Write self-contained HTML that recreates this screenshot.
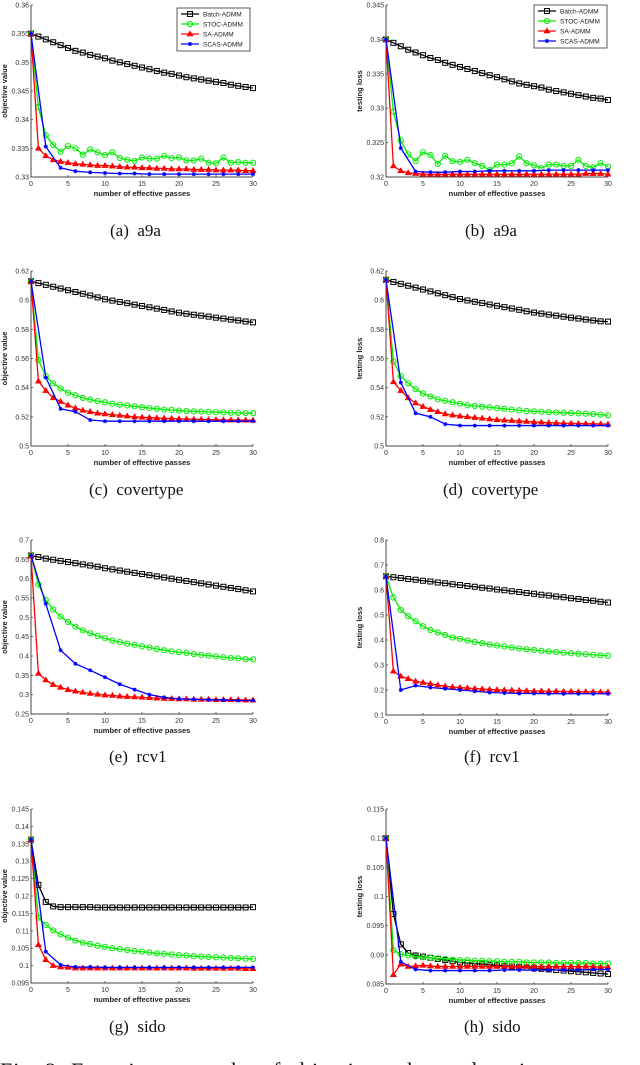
<!DOCTYPE html>
<html><head><meta charset="utf-8">
<style>
html,body{margin:0;padding:0;background:#fff;width:640px;height:1065px;overflow:hidden;position:relative}
svg{position:absolute;left:0;top:0}
.cap{position:absolute;font-family:"Liberation Serif",serif;font-size:17px;color:#111;white-space:pre}
</style></head>
<body>
<svg id="fig" width="640" height="1065" viewBox="0 0 640 1065"></svg>
<div class="cap" style="left:110px;top:221px">(a)  a9a</div>
<div class="cap" style="left:465px;top:221px">(b)  a9a</div>
<div class="cap" style="left:89px;top:480px">(c)  covertype</div>
<div class="cap" style="left:443px;top:480px">(d)  covertype</div>
<div class="cap" style="left:109px;top:747px">(e)  rcv1</div>
<div class="cap" style="left:464px;top:747px">(f)  rcv1</div>
<div class="cap" style="left:109px;top:1017px">(g)  sido</div>
<div class="cap" style="left:464px;top:1017px">(h)  sido</div>
<div class="cap" style="left:0;top:1058px;width:640px;overflow:hidden;font-size:22px;letter-spacing:1px">Fig. 2: Experiment results of objective value and testing</div>
<script>
const xFull = [0,1,2,3,4,5,6,7,8,9,10,11,12,13,14,15,16,17,18,19,20,21,22,23,24,25,26,27,28,29,30];
const xScas = [0,2,4,6,8,10,12,14,16,18,20,22,24,26,28,30];
const xTicks = [0,5,10,15,20,25,30];
const seriesNames = ["Batch-ADMM","STOC-ADMM","SA-ADMM","SCAS-ADMM"];

const aBatch=[0.355,0.3545,0.354,0.3535,0.353,0.3525,0.352,0.3517,0.3513,0.351,0.3507,0.3503,0.35,0.3497,0.3494,0.3491,0.3488,0.3485,0.3482,0.348,0.3477,0.3474,0.3472,0.347,0.3468,0.3466,0.3464,0.3461,0.3459,0.3457,0.3455];
const aStoc=[0.355,0.3422,0.3373,0.3356,0.3344,0.3354,0.335,0.3339,0.3348,0.3343,0.3338,0.3343,0.3333,0.333,0.3328,0.3334,0.3332,0.3332,0.3337,0.3333,0.3334,0.3329,0.3329,0.3332,0.3325,0.3324,0.3334,0.3325,0.3326,0.3325,0.3325];
const aSa=[0.355,0.335,0.3337,0.333,0.3327,0.3325,0.3323,0.3322,0.3321,0.332,0.332,0.3319,0.3318,0.3317,0.3317,0.3316,0.3316,0.3315,0.3315,0.3314,0.3314,0.3314,0.3313,0.3313,0.3313,0.3312,0.3312,0.3312,0.3312,0.3311,0.3311];
const aScas=[0.355,0.3353,0.3316,0.331,0.3308,0.3307,0.3306,0.3306,0.3305,0.3305,0.3305,0.3305,0.3305,0.3305,0.3305,0.3305];
const aTicks=[0.33,0.335,0.34,0.345,0.35,0.355,0.36];

const bBatch=[0.34,0.3395,0.339,0.3385,0.3381,0.3377,0.3373,0.337,0.3366,0.3363,0.336,0.3357,0.3354,0.3351,0.3348,0.3345,0.3342,0.3339,0.3336,0.3334,0.3332,0.333,0.3327,0.3325,0.3323,0.3321,0.3319,0.3317,0.3315,0.3314,0.3312];
const bStoc=[0.34,0.3295,0.3253,0.3233,0.3223,0.3236,0.3232,0.3219,0.3231,0.3223,0.3222,0.3225,0.322,0.3216,0.321,0.3218,0.3218,0.322,0.323,0.322,0.3217,0.3213,0.3218,0.3218,0.3216,0.3216,0.3225,0.3216,0.3214,0.322,0.3215];
const bSa=[0.34,0.3216,0.3209,0.3206,0.3205,0.3204,0.3204,0.3204,0.3204,0.3204,0.3204,0.3204,0.3204,0.3204,0.3204,0.3204,0.3204,0.3204,0.3204,0.3204,0.3204,0.3204,0.3204,0.3204,0.3204,0.3204,0.3204,0.3205,0.3205,0.3205,0.3204];
const bScas=[0.34,0.3242,0.3208,0.3207,0.3207,0.3208,0.3208,0.3209,0.3209,0.3209,0.3209,0.321,0.321,0.321,0.321,0.321];
const bTicks=[0.32,0.325,0.33,0.335,0.34,0.345];

const cBatch=[0.613,0.6117,0.6105,0.6092,0.608,0.6068,0.6056,0.6044,0.6032,0.6019,0.6006,0.5997,0.5988,0.5979,0.5969,0.596,0.5951,0.5942,0.5933,0.5923,0.5914,0.5907,0.59,0.5894,0.5887,0.588,0.5874,0.5867,0.5861,0.5854,0.5848];
const cStoc=[0.613,0.559,0.548,0.543,0.5395,0.5365,0.5348,0.533,0.5318,0.5308,0.53,0.529,0.5283,0.5278,0.5272,0.5266,0.526,0.5255,0.525,0.5247,0.5243,0.524,0.5238,0.5236,0.5234,0.5232,0.523,0.5228,0.5227,0.5226,0.5225];
const cSa=[0.613,0.5445,0.538,0.533,0.5305,0.528,0.526,0.5245,0.5235,0.5225,0.522,0.5215,0.521,0.5205,0.52,0.5197,0.5195,0.5192,0.519,0.5188,0.5186,0.5184,0.5183,0.5182,0.5181,0.518,0.5179,0.5178,0.5178,0.5177,0.5177];
const cScas=[0.613,0.547,0.5255,0.5235,0.5178,0.517,0.517,0.517,0.517,0.517,0.517,0.517,0.517,0.517,0.517,0.517];
const cTicks=[0.5,0.52,0.54,0.56,0.58,0.6,0.62];

const dBatch=[0.614,0.6125,0.6112,0.6099,0.6086,0.6073,0.606,0.6047,0.6034,0.6021,0.6008,0.5998,0.5989,0.598,0.597,0.5961,0.5952,0.5943,0.5934,0.5924,0.5915,0.5908,0.5901,0.5894,0.5887,0.588,0.5874,0.5867,0.5861,0.5855,0.5853];
const dStoc=[0.614,0.558,0.548,0.543,0.539,0.536,0.534,0.532,0.531,0.53,0.529,0.528,0.5275,0.527,0.5265,0.526,0.5255,0.525,0.5245,0.524,0.5238,0.5235,0.5232,0.523,0.5228,0.5226,0.5224,0.5222,0.522,0.5215,0.521];
const dSa=[0.614,0.544,0.538,0.533,0.5295,0.527,0.525,0.5235,0.522,0.5212,0.5205,0.52,0.5195,0.519,0.5185,0.518,0.5177,0.5174,0.5171,0.5168,0.5165,0.5162,0.516,0.5158,0.5156,0.5155,0.5154,0.5153,0.5152,0.5151,0.515];
const dScas=[0.614,0.5435,0.5225,0.52,0.515,0.514,0.514,0.514,0.514,0.514,0.514,0.514,0.514,0.514,0.514,0.514];
const dTicks=[0.5,0.52,0.54,0.56,0.58,0.6,0.62];

const eBatch=[0.66,0.656,0.652,0.649,0.646,0.643,0.64,0.637,0.634,0.631,0.627,0.624,0.621,0.618,0.615,0.612,0.609,0.606,0.603,0.6,0.597,0.594,0.591,0.588,0.585,0.582,0.579,0.576,0.573,0.57,0.567];
const eStoc=[0.66,0.585,0.545,0.52,0.502,0.488,0.476,0.466,0.459,0.452,0.446,0.44,0.436,0.432,0.429,0.425,0.422,0.418,0.415,0.412,0.41,0.408,0.405,0.403,0.401,0.399,0.397,0.395,0.394,0.392,0.391];
const eSa=[0.66,0.355,0.338,0.326,0.319,0.313,0.309,0.306,0.303,0.301,0.299,0.298,0.296,0.295,0.294,0.293,0.292,0.291,0.29,0.29,0.289,0.289,0.288,0.288,0.288,0.287,0.287,0.287,0.287,0.286,0.286];
const eScas=[0.66,0.535,0.415,0.38,0.363,0.345,0.327,0.313,0.3,0.293,0.289,0.288,0.287,0.286,0.285,0.285];
const eTicks=[0.25,0.3,0.35,0.4,0.45,0.5,0.55,0.6,0.65,0.7];

const fBatch=[0.655,0.651,0.648,0.644,0.641,0.637,0.634,0.63,0.627,0.623,0.62,0.616,0.613,0.609,0.606,0.602,0.599,0.595,0.592,0.588,0.585,0.581,0.578,0.574,0.571,0.567,0.564,0.56,0.557,0.553,0.55];
const fStoc=[0.655,0.57,0.52,0.495,0.475,0.455,0.44,0.43,0.42,0.41,0.405,0.398,0.392,0.387,0.382,0.378,0.374,0.37,0.366,0.363,0.36,0.357,0.354,0.352,0.349,0.347,0.345,0.343,0.341,0.339,0.337];
const fSa=[0.655,0.275,0.255,0.245,0.235,0.23,0.225,0.22,0.215,0.212,0.21,0.208,0.206,0.204,0.202,0.201,0.2,0.199,0.198,0.197,0.196,0.196,0.195,0.195,0.194,0.194,0.193,0.193,0.193,0.192,0.192];
const fScas=[0.655,0.2,0.218,0.21,0.205,0.2,0.195,0.19,0.188,0.186,0.186,0.185,0.185,0.185,0.185,0.185];
const fTicks=[0.1,0.2,0.3,0.4,0.5,0.6,0.7,0.8];

const gBatch=[0.1362,0.1232,0.1183,0.117,0.1168,0.1168,0.1168,0.1168,0.1168,0.1167,0.1167,0.1167,0.1167,0.1167,0.1167,0.1167,0.1167,0.1167,0.1167,0.1167,0.1167,0.1167,0.1167,0.1167,0.1167,0.1167,0.1167,0.1167,0.1167,0.1167,0.1168];
const gStoc=[0.1362,0.1138,0.1117,0.1101,0.109,0.108,0.1072,0.1066,0.1062,0.1057,0.1054,0.105,0.1047,0.1045,0.1042,0.104,0.1038,0.1035,0.1034,0.1032,0.103,0.1029,0.1027,0.1026,0.1025,0.1024,0.1023,0.1022,0.1021,0.102,0.1019];
const gSa=[0.1362,0.106,0.1017,0.1,0.0996,0.0995,0.0993,0.0993,0.0993,0.0993,0.0993,0.0993,0.0993,0.0993,0.0993,0.0993,0.0993,0.0993,0.0993,0.0993,0.0993,0.0993,0.0992,0.0992,0.0992,0.0992,0.0992,0.0992,0.0992,0.0991,0.0991];
const gScas=[0.1362,0.104,0.1002,0.0996,0.0996,0.0995,0.0995,0.0995,0.0995,0.0995,0.0995,0.0995,0.0995,0.0995,0.0995,0.0995];
const gTicks=[0.095,0.1,0.105,0.11,0.115,0.12,0.125,0.13,0.135,0.14,0.145];

const hBatch=[0.11,0.097,0.0918,0.0903,0.0899,0.0897,0.0895,0.0893,0.0891,0.0889,0.0887,0.0886,0.0885,0.0884,0.0883,0.0882,0.0881,0.088,0.0879,0.0878,0.0877,0.0876,0.0875,0.0874,0.0873,0.0872,0.0871,0.087,0.0869,0.0868,0.0867];
const hStoc=[0.11,0.0908,0.0901,0.0899,0.0897,0.0896,0.0895,0.0894,0.0893,0.0892,0.0891,0.0891,0.089,0.089,0.0889,0.0889,0.0888,0.0888,0.0888,0.0887,0.0887,0.0887,0.0887,0.0886,0.0886,0.0886,0.0886,0.0886,0.0885,0.0885,0.0885];
const hSa=[0.11,0.0866,0.0884,0.088,0.0881,0.0882,0.0881,0.088,0.088,0.088,0.088,0.088,0.088,0.088,0.088,0.088,0.088,0.088,0.088,0.088,0.088,0.088,0.088,0.088,0.088,0.088,0.088,0.088,0.088,0.0879,0.0879];
const hScas=[0.11,0.0888,0.0875,0.0873,0.0873,0.0873,0.0873,0.0873,0.0874,0.0874,0.0874,0.0874,0.0874,0.0874,0.0875,0.0875];
const hTicks=[0.085,0.09,0.095,0.1,0.105,0.11,0.115];

const NS="http://www.w3.org/2000/svg";
const svg=document.getElementById('fig');
function mk(tag,attrs,parent){const e=document.createElementNS(NS,tag);for(const k in attrs)e.setAttribute(k,attrs[k]);(parent||svg).appendChild(e);return e;}
const colors=["#000","#00ee00","#ff0000","#0000ff"];

function panel(id,L,T,R,B,yTicks,ylab,series,legend){
  const g=mk('g',{});
  
  
  const ymin=yTicks[0],ymax=yTicks[yTicks.length-1];
  const sx=v=>L+(v-0)/(30-0)*(R-L);
  const sy=v=>B-(v-ymin)/(ymax-ymin)*(B-T);
  const ax=mk('path',{d:`M${L},${T}V${B}H${R}`,stroke:'#444',fill:'none','stroke-width':1},g);
  
  
  yTicks.forEach(t=>{
    const y=sy(t);
    mk('line',{x1:L,x2:L+2,y1:y,y2:y,stroke:'#444','stroke-width':0.8},g);
    const tx=mk('text',{x:L-2,y:y+2.5,'text-anchor':'end','font-size':7,'font-family':'Liberation Sans, sans-serif',fill:'#333'},g);
    tx.textContent=String(+t.toFixed(4));
    
    
  });
  xTicks.forEach(t=>{
    const x=sx(t);
    mk('line',{x1:x,x2:x,y1:B,y2:B-2,stroke:'#444','stroke-width':0.8},g);
    const tx=mk('text',{x:x,y:B+9,'text-anchor':'middle','font-size':7,'font-family':'Liberation Sans, sans-serif',fill:'#333'},g);
    tx.textContent=String(t);
    
    
  });
  const xl=mk('text',{x:(L+R)/2,y:B+19,'text-anchor':'middle','font-size':7.5,'font-weight':'bold','font-family':'Liberation Sans, sans-serif',fill:'#222'},g);
  xl.textContent='number of effective passes';
  
  
  const cy=(T+B)/2, lx=L-24;
  const yl=mk('text',{x:lx,y:cy,'text-anchor':'middle','font-size':7.5,'font-weight':'bold','font-family':'Liberation Sans, sans-serif',fill:'#222',transform:`rotate(-90 ${lx} ${cy})`},g);
  yl.textContent=ylab;
  
  
  series.forEach((s,i)=>{
    const xs=i===3?xScas:xFull;
    const d=s.map((v,j)=>(j?'L':'M')+sx(xs[j]).toFixed(2)+','+sy(v).toFixed(2)).join('');
    const p=mk('path',{d:d,stroke:colors[i],fill:'none','stroke-width':1.3},g);
    
    
    s.forEach((v,j)=>marker(g,i,sx(xs[j]),sy(v)));
  });
  if(legend){
    const lg=mk('g',{},g);
    
    
    const bx=legend[0],by=legend[1];
    mk('rect',{x:bx,y:by,width:73,height:43,fill:'#fff',stroke:'#333','stroke-width':0.8},lg);
    seriesNames.forEach((n,i)=>{
      const yy=by+6+i*10;
      const ln=mk('line',{x1:bx+4,x2:bx+22,y1:yy,y2:yy,stroke:colors[i],'stroke-width':1.3},lg);
      
      
      marker(lg,i,bx+13,yy);
      const t=mk('text',{x:bx+26,y:yy+2.5,'font-size':6.5,'font-family':'Liberation Sans, sans-serif',fill:'#222'},lg);
      t.textContent=n;
    });
  }
}
function marker(g,i,x,y){
  if(i===0) mk('rect',{x:x-2.5,y:y-2.5,width:5,height:5,fill:'none',stroke:'#000','stroke-width':1},g);
  else if(i===1) mk('circle',{cx:x,cy:y,r:2.6,fill:'none',stroke:'#00ee00','stroke-width':1},g);
  else if(i===2) mk('path',{d:`M${x},${y-3}L${x+3},${y+2}L${x-3},${y+2}Z`,fill:'#ff0000',stroke:'#ff0000','stroke-width':0.6},g);
  else mk('path',{d:`M${x-2},${y}H${x+2}M${x},${y-2}V${y+2}M${x-1.5},${y-1.5}L${x+1.5},${y+1.5}M${x-1.5},${y+1.5}L${x+1.5},${y-1.5}`,stroke:'#0000ff','stroke-width':1},g);
}
panel('a',31,5,253,177,aTicks,'objective value',[aBatch,aStoc,aSa,aScas],[177,8]);
panel('b',386,5,608,177,bTicks,'testing loss',[bBatch,bStoc,bSa,bScas],[534,5]);
panel('c',31,271,253,446,cTicks,'objective value',[cBatch,cStoc,cSa,cScas]);
panel('d',386,271,608,446,dTicks,'testing loss',[dBatch,dStoc,dSa,dScas]);
panel('e',31,540,253,714,eTicks,'objective value',[eBatch,eStoc,eSa,eScas]);
panel('f',386,540,608,715,fTicks,'testing loss',[fBatch,fStoc,fSa,fScas]);
panel('g',31,809,253,983,gTicks,'objective value',[gBatch,gStoc,gSa,gScas]);
panel('h',386,809,608,984,hTicks,'testing loss',[hBatch,hStoc,hSa,hScas]);
</script>
</body></html>
